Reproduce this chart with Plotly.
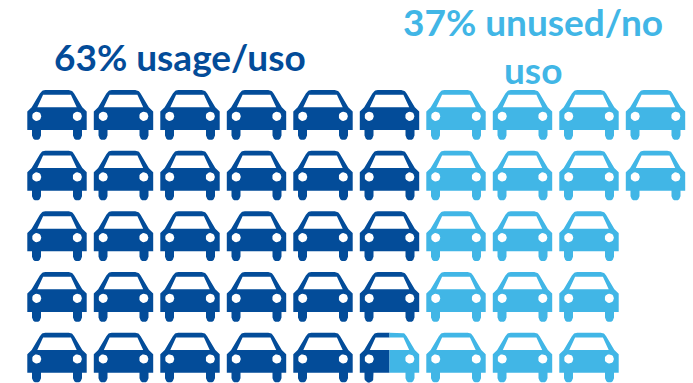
import math
import plotly.graph_objects as go

# Cars per row, split between the two groups (0.5 = half a car)
used_per_row = [6, 6, 6, 6, 5.5]
unused_per_row = [4, 4, 3, 3, 3.5]
used_label = "63% usage/uso"
unused_label_lines = ["37% unused/no", "uso"]

USED_COLOR = "#034C99"
UNUSED_COLOR = "#41B6E6"
FONT = "Lato"
COL_PX = 66.5
ROW_PX = 60.67
LEFT_PX = 27.3
TOP_PX = 90.0
WIDTH = 693
HEIGHT = 383


def arc(cx, cy, r, start, end, n=8):
    return [(cx + r * math.cos(math.radians(start + (end - start) * i / n)),
             cy + r * math.sin(math.radians(start + (end - start) * i / n)))
            for i in range(n + 1)]


# Icon outline in pixels, from the top-left corner of a car (y grows downward)
outline = (
    arc(18.0, 6.0, 6.0, 205, 270)
    + arc(41.4, 6.0, 6.0, 270, 335)
    + [(55.0, 17.3), (59.4, 21.6), (59.4, 40.0), (54.7, 40.0)]
    + arc(50.2, 45.5, 4.5, 0, 180)
    + [(45.7, 40.0), (13.7, 40.0)]
    + arc(9.2, 45.5, 4.5, 0, 180)
    + [(4.7, 40.0), (0.0, 40.0), (0.0, 21.6), (4.4, 17.3)]
)
window = [(10.0, 17.3), (49.4, 17.3), (43.6, 4.8), (15.8, 4.8)]
lamp_left = arc(9.4, 26.3, 4.6, 360, 0, 20)
lamp_right = arc(50.0, 26.3, 4.6, 360, 0, 20)
car_parts = [outline, window, lamp_left, lamp_right]


def clip_x(poly, lo, hi):
    """Clip a closed polygon to the vertical band lo <= x <= hi."""
    def clip(points, inside, limit):
        result = []
        for i, p in enumerate(points):
            q = points[(i + 1) % len(points)]
            if inside(p):
                result.append(p)
            if inside(p) != inside(q):
                t = (limit - p[0]) / (q[0] - p[0])
                result.append((limit, p[1] + t * (q[1] - p[1])))
        return result
    res = clip(poly, lambda p: p[0] >= lo, lo)
    return clip(res, lambda p: p[0] <= hi, hi) if res else res


def add_car(xs, ys, col, row, start=0.0, end=1.0):
    """Append one car, or a slice of it, in column/row axis units."""
    width = 59.4
    for part in car_parts:
        piece = clip_x(part, start * width, end * width)
        if not piece:
            continue
        piece = piece + [piece[0]]
        xs.extend(col + px / COL_PX for px, _ in piece)
        ys.extend(row + py / ROW_PX for _, py in piece)
        xs.append(None)
        ys.append(None)


used_x, used_y, unused_x, unused_y = [], [], [], []
for row, (used, unused) in enumerate(zip(used_per_row, unused_per_row)):
    whole = int(used)
    for col in range(whole):
        add_car(used_x, used_y, col, row)
    col = whole
    left = unused
    if used > whole:
        part = used - whole
        add_car(used_x, used_y, col, row, 0.0, part)
        add_car(unused_x, unused_y, col, row, part, 1.0)
        left -= 1 - part
        col += 1
    for offset in range(int(left)):
        add_car(unused_x, unused_y, col + offset, row)

fig = go.Figure()
for xs, ys, color, name in [(used_x, used_y, USED_COLOR, "usage"),
                            (unused_x, unused_y, UNUSED_COLOR, "unused")]:
    fig.add_trace(go.Scatter(x=xs, y=ys, mode="lines", fill="toself", fillcolor=color,
                             line=dict(width=0, color=color), name=name,
                             hoverinfo="skip", showlegend=False))


def label(text, x_px, y_px, color):
    fig.add_annotation(text=text, x=x_px / WIDTH, y=1 - y_px / HEIGHT,
                       xref="paper", yref="paper", showarrow=False,
                       xanchor="center", yanchor="middle",
                       font=dict(family=FONT, size=37, color=color, weight="bold"))


label(used_label, 180, 57, USED_COLOR)
label(unused_label_lines[0], 533, 21, UNUSED_COLOR)
label(unused_label_lines[1], 533, 69, UNUSED_COLOR)

fig.update_layout(
    width=WIDTH, height=HEIGHT, margin=dict(l=0, r=0, t=0, b=0),
    paper_bgcolor="white", plot_bgcolor="white",
    xaxis=dict(range=[-LEFT_PX / COL_PX, (WIDTH - LEFT_PX) / COL_PX], visible=False, fixedrange=True),
    yaxis=dict(range=[(HEIGHT - TOP_PX) / ROW_PX, -TOP_PX / ROW_PX], visible=False, fixedrange=True),
)
fig.write_html("out.html", config=dict(displayModeBar=False))
